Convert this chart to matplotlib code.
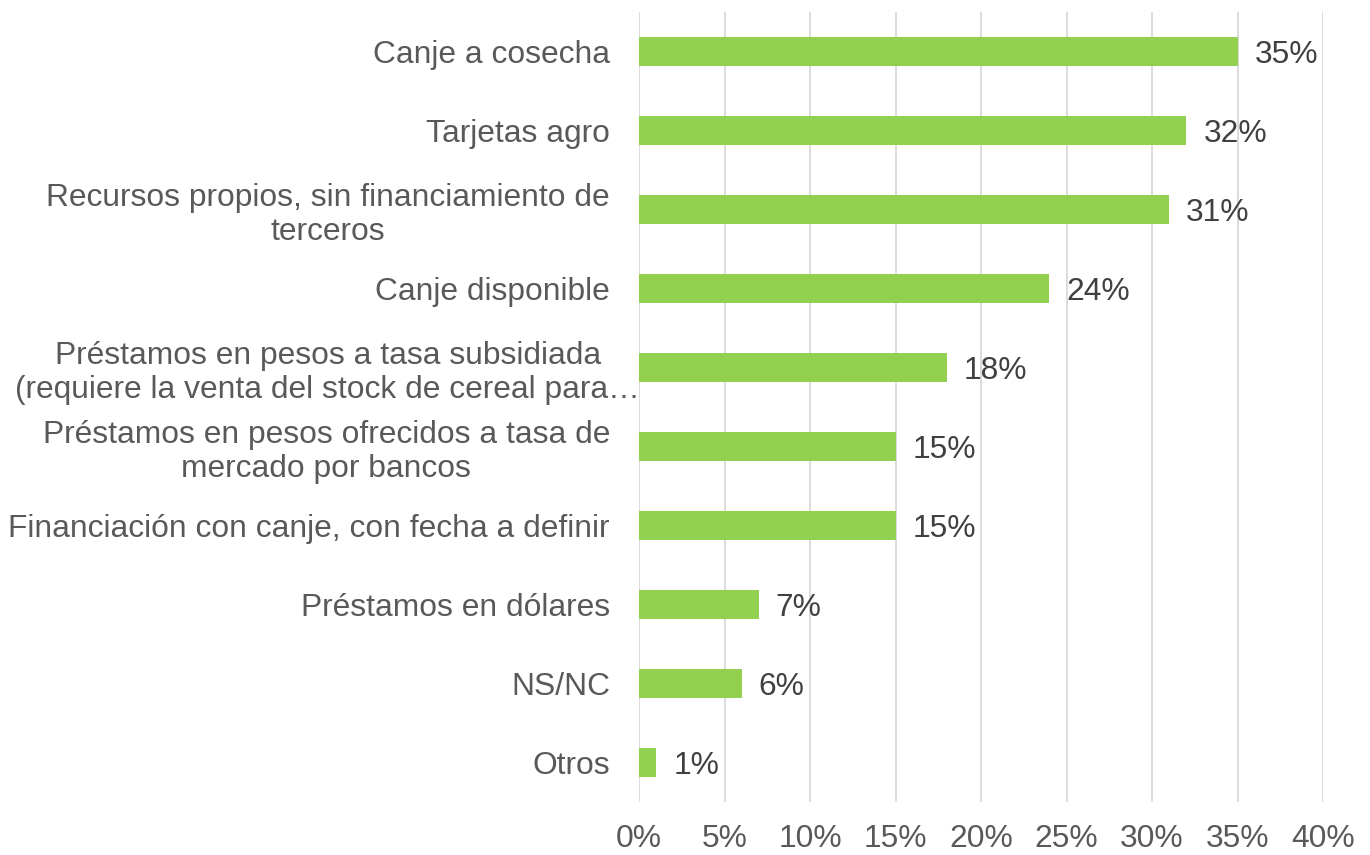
import matplotlib
matplotlib.use('Agg')
import matplotlib.pyplot as plt
from matplotlib.ticker import FuncFormatter
from matplotlib.transforms import offset_copy

categories = [
    'Canje a cosecha',
    'Tarjetas agro',
    'Recursos propios, sin financiamiento de\nterceros',
    'Canje disponible',
    'Préstamos en pesos a tasa subsidiada\n(requiere la venta del stock de cereal para…',
    'Préstamos en pesos ofrecidos a tasa de\nmercado por bancos',
    'Financiación con canje, con fecha a definir',
    'Préstamos en dólares',
    'NS/NC',
    'Otros',
]
values = [35, 32, 31, 24, 18, 15, 15, 7, 6, 1]
xticks = [0, 5, 10, 15, 20, 25, 30, 35, 40]

plt.rcParams['font.family'] = ['Liberation Sans', 'DejaVu Sans']
FS = 22.9

fig = plt.figure(figsize=(13.7, 8.55), dpi=100)
ax = fig.add_axes([639 / 1370, 1 - 802 / 855, (1323 - 639) / 1370, (802 - 12) / 855])

ypos = list(range(len(categories)))
ax.barh(ypos, values, height=0.36, color='#92D050', zorder=3)
for y, v in zip(ypos, values):
    ax.text(v + 1.0, y, f'{v}%', va='center_baseline', ha='left', fontsize=FS,
            color='#404040', zorder=4)

ax.set_ylim(len(categories) - 0.5, -0.5)
ax.set_xlim(0, 40)
ax.set_yticks(ypos)
ax.set_yticklabels(categories, fontsize=FS, color='#595959', ha='center',
                   linespacing=1.18)
ax.set_xticks(xticks)
ax.xaxis.set_major_formatter(FuncFormatter(lambda x, p: f'{x:.0f}%'))
ax.tick_params(axis='x', length=0, pad=16, labelsize=FS, labelcolor='#595959')
ax.tick_params(axis='y', length=0)
ax.grid(axis='x', color='#D9D9D9', linewidth=1.3, zorder=0)
for s in ax.spines.values():
    s.set_visible(False)

# center multi-line y labels, right edge at a fixed pixel column
fig.canvas.draw()
renderer = fig.canvas.get_renderer()
for t in ax.get_yticklabels():
    w = t.get_window_extent(renderer).width
    # the truncated label overflows toward the axis, like the original
    right_edge = 640 if t.get_text().endswith('…') else 610
    t.set_x(0)
    t.set_horizontalalignment('center')
    t.set_transform(offset_copy(ax.get_yaxis_transform(), fig=fig,
                                x=(right_edge - 639 - w / 2) * 72 / 100, units='points'))

fig.savefig('out.png', dpi=100)
